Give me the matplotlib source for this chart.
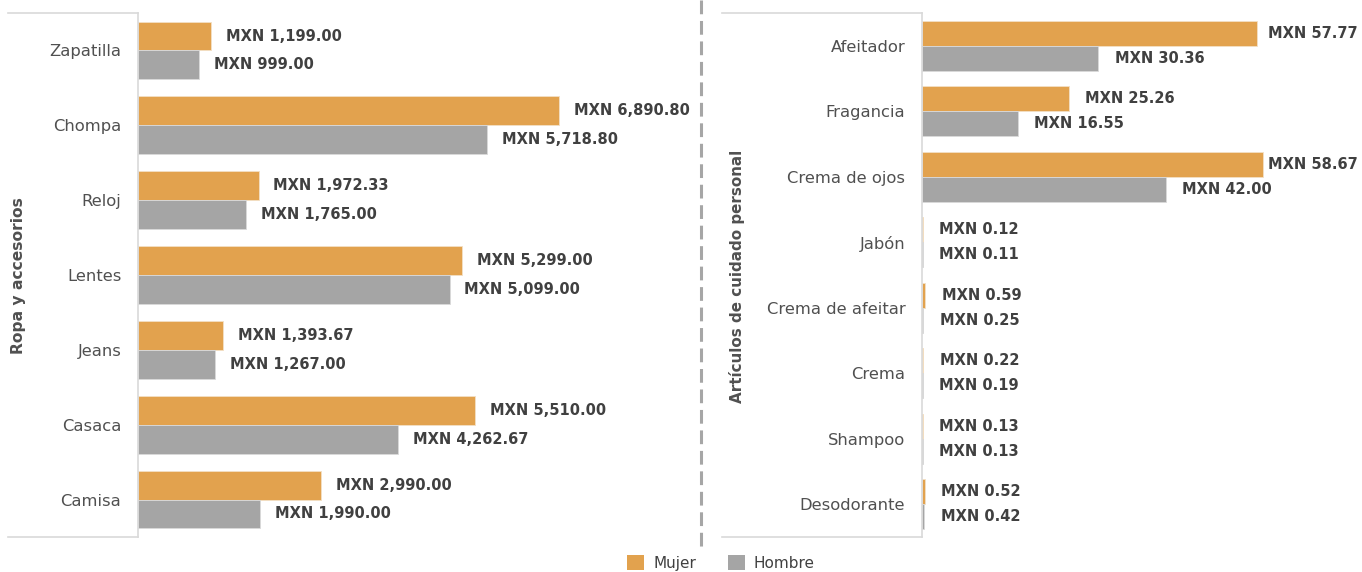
import numpy as np
import matplotlib
matplotlib.use("Agg")
import matplotlib.pyplot as plt
from matplotlib.patches import Patch

ORANGE = "#E2A24E"
GRAY = "#A5A5A5"
FRAME = "#D9D9D9"
TXT = "#505050"
VAL = "#404040"

ropa_cats = ["Zapatilla", "Chompa", "Reloj", "Lentes", "Jeans", "Casaca", "Camisa"]
ropa_mujer = [1199.00, 6890.80, 1972.33, 5299.00, 1393.67, 5510.00, 2990.00]
ropa_hombre = [999.00, 5718.80, 1765.00, 5099.00, 1267.00, 4262.67, 1990.00]

cuid_cats = ["Afeitador", "Fragancia", "Crema de ojos", "Jabón", "Crema de afeitar",
             "Crema", "Shampoo", "Desodorante"]
cuid_mujer = [57.77, 25.26, 58.67, 0.12, 0.59, 0.22, 0.13, 0.52]
cuid_hombre = [30.36, 16.55, 42.00, 0.11, 0.25, 0.19, 0.13, 0.42]

W, H = 1362, 572


def fx(px):
    return px / W


def fy(py):
    return 1 - py / H


def panel(ax, cats, mujer, hombre, xmax, pad, lab_max, frame_left):
    y = np.arange(len(cats))
    h = 0.385
    ax.barh(y - h / 2, mujer, height=h, color=ORANGE, edgecolor="#F3E0C6", linewidth=0.6)
    ax.barh(y + h / 2, hombre, height=h, color=GRAY, edgecolor="#DADADA", linewidth=0.6)
    for yi, m, w in zip(y, mujer, hombre):
        ax.text(min(m + pad, lab_max), yi - h / 2, f"MXN {m:,.2f}", va="center", ha="left",
                fontsize=10.5, fontweight="bold", color=VAL)
        ax.text(min(w + pad, lab_max), yi + h / 2, f"MXN {w:,.2f}", va="center", ha="left",
                fontsize=10.5, fontweight="bold", color=VAL)
    ax.set_xlim(0, xmax)
    ax.set_ylim(len(cats) - 0.5, -0.5)
    ax.set_yticks(y)
    ax.set_yticklabels(cats, fontsize=11.8, color=TXT)
    ax.tick_params(axis="y", length=0, pad=12)
    ax.set_xticks([])
    for s in ["top", "right", "bottom"]:
        ax.spines[s].set_visible(False)
    ax.spines["left"].set_color(FRAME)
    ax.spines["left"].set_linewidth(1.2)
    # light bracket lines above and below the category labels
    pos = ax.get_position()
    off = -(pos.x0 - fx(frame_left)) / pos.width
    for yy in (0, 1):
        ax.plot([off, 0], [yy, yy], transform=ax.transAxes, color=FRAME, lw=1.2,
                clip_on=False)


fig = plt.figure(figsize=(W / 100, H / 100), dpi=100)
fig.patch.set_facecolor("white")

ax1 = fig.add_axes([fx(138), fy(537), fx(690 - 138), fy(13) - fy(537)])
panel(ax1, ropa_cats, ropa_mujer, ropa_hombre, 9035, 245, 1e9, 8)
fig.text(fx(19), fy(276), "Ropa y accesorios", rotation=90, ha="center", va="center",
         fontsize=11.2, fontweight="bold", color=TXT)

ax2 = fig.add_axes([fx(922), fy(537), fx(1340 - 922), fy(13) - fy(537)])
panel(ax2, cuid_cats, cuid_mujer, cuid_hombre, 72.0, 2.8, 59.6, 722)
fig.text(fx(737), fy(276), "Artículos de cuidado personal", rotation=90, ha="center",
         va="center", fontsize=10.9, fontweight="bold", color=TXT)

# dashed separator between the two panels
fig.add_artist(plt.Line2D([fx(701), fx(701)], [fy(0), fy(548)], color="#A6A6A6", lw=2.2,
                          dashes=(4.5, 2.2)))

handles = [Patch(facecolor=ORANGE, label="Mujer"), Patch(facecolor=GRAY, label="Hombre")]
fig.legend(handles=handles, loc="center", bbox_to_anchor=(fx(721), fy(563)), ncol=2,
           frameon=False, fontsize=11, handlelength=1.1, handleheight=1.1,
           columnspacing=2.1, handletextpad=0.6, labelcolor=VAL)

fig.savefig("out.png", dpi=100, facecolor="white")
